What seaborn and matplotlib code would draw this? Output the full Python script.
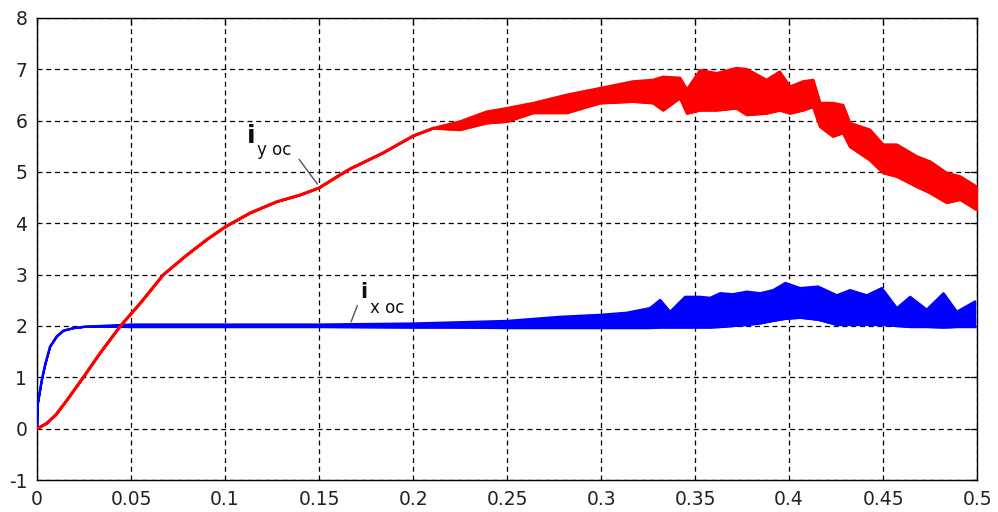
import matplotlib
matplotlib.use("Agg")
import matplotlib.pyplot as plt
import seaborn as sns
import pandas as pd

# ---- data (time in s, current) ----
red_t = [0, 0.005, 0.01, 0.0158, 0.0246, 0.0335, 0.0441, 0.0548, 0.0672, 0.0796,
         0.0902, 0.1005, 0.1133, 0.1275, 0.1399, 0.15, 0.161, 0.1665, 0.184, 0.2,
         0.2106, 0.225, 0.239, 0.25, 0.264, 0.2818, 0.2995, 0.317, 0.3277, 0.333,
         0.342, 0.3457, 0.3527, 0.3615, 0.372, 0.3775, 0.388, 0.395, 0.4005, 0.4074,
         0.4128, 0.4165, 0.4234, 0.4287, 0.4324, 0.443, 0.45, 0.4573, 0.468, 0.475,
         0.4838, 0.491, 0.4998]
red_hi = [0, 0.1, 0.27, 0.55, 1.0, 1.47, 1.99, 2.44, 3.0, 3.38,
          3.68, 3.94, 4.2, 4.42, 4.55, 4.69, 4.94, 5.06, 5.37, 5.7,
          5.85, 5.98, 6.17, 6.24, 6.34, 6.5, 6.63, 6.76, 6.79, 6.85,
          6.83, 6.6, 6.98, 6.92, 7.02, 7.0, 6.79, 6.95, 6.66, 6.76,
          6.79, 6.34, 6.34, 6.3, 5.95, 5.82, 5.53, 5.53, 5.3, 5.2,
          4.98, 4.91, 4.71]
red_lo = [0, 0.1, 0.27, 0.55, 1.0, 1.47, 1.99, 2.44, 3.0, 3.38,
          3.68, 3.94, 4.2, 4.42, 4.55, 4.69, 4.94, 5.06, 5.37, 5.7,
          5.85, 5.82, 5.95, 5.98, 6.15, 6.15, 6.34, 6.37, 6.34, 6.2,
          6.44, 6.14, 6.2, 6.2, 6.24, 6.11, 6.14, 6.2, 6.14, 6.2,
          6.27, 5.88, 5.69, 5.76, 5.49, 5.23, 4.98, 4.91, 4.71, 4.59,
          4.4, 4.46, 4.26]

blue_t = [0, 0.0003, 0.0025, 0.0043, 0.0069, 0.0105, 0.014, 0.0193, 0.0264, 0.05,
          0.1, 0.15, 0.2, 0.22, 0.25, 0.278, 0.3, 0.3137, 0.326, 0.3314,
          0.3367, 0.3447, 0.3527, 0.358, 0.3633, 0.37, 0.3775, 0.3846, 0.3915, 0.398,
          0.4059, 0.4154, 0.4254, 0.4324, 0.4413, 0.4493, 0.4573, 0.4644, 0.4732, 0.4821,
          0.4892, 0.4989]
blue_hi = [0, 0.47, 0.95, 1.25, 1.6, 1.8, 1.91, 1.96, 1.99, 2.03,
           2.03, 2.03, 2.05, 2.07, 2.1, 2.18, 2.22, 2.26, 2.35, 2.51,
           2.28, 2.57, 2.57, 2.55, 2.64, 2.62, 2.67, 2.64, 2.7, 2.84,
           2.74, 2.77, 2.6, 2.7, 2.6, 2.74, 2.35, 2.57, 2.32, 2.64,
           2.28, 2.48]
blue_lo = [0, 0.47, 0.95, 1.25, 1.6, 1.8, 1.91, 1.96, 1.99, 1.98,
           1.98, 1.98, 1.97, 1.97, 1.96, 1.96, 1.96, 1.96, 1.96, 1.97,
           1.97, 1.97, 1.97, 1.97, 1.98, 2.0, 2.02, 2.05, 2.1, 2.14,
           2.16, 2.12, 2.02, 2.02, 2.02, 2.02, 2.0, 1.98, 1.98, 1.97,
           1.98, 1.98]

x_ticks = [0, 0.05, 0.1, 0.15, 0.2, 0.25, 0.3, 0.35, 0.4, 0.45, 0.5]
x_labels = ["0", "0.05", "0.1", "0.15", "0.2", "0.25", "0.3", "0.35", "0.4", "0.45", "0.5"]
y_ticks = [-1, 0, 1, 2, 3, 4, 5, 6, 7, 8]
y_labels = [str(v) for v in y_ticks]

red_df = pd.DataFrame({"t": red_t, "hi": red_hi, "lo": red_lo})
blue_df = pd.DataFrame({"t": blue_t, "hi": blue_hi, "lo": blue_lo})

sns.set_theme(style="white")
plt.rcParams['font.family'] = ['DejaVu Sans']

fig = plt.figure(figsize=(9.98, 5.12), dpi=100)
ax = fig.add_axes([0.0371, 0.0625, 0.942, 0.9025])

# band + edges
ax.fill_between(blue_df["t"], blue_df["lo"], blue_df["hi"], color="#0000ff",
                linewidth=1.0, edgecolor="#0000ff", zorder=3)
sns.lineplot(data=blue_df, x="t", y="hi", color="#0000ff", lw=1.5,
             estimator=None, sort=False, ax=ax, zorder=3)
sns.lineplot(data=blue_df, x="t", y="lo", color="#0000ff", lw=1.5,
             estimator=None, sort=False, ax=ax, zorder=3)

ax.fill_between(red_df["t"], red_df["lo"], red_df["hi"], color="#ff0000",
                linewidth=1.0, edgecolor="#ff0000", zorder=4)
sns.lineplot(data=red_df, x="t", y="hi", color="#ff0000", lw=2.0,
             estimator=None, sort=False, ax=ax, zorder=4)
sns.lineplot(data=red_df, x="t", y="lo", color="#ff0000", lw=2.0,
             estimator=None, sort=False, ax=ax, zorder=4)

ax.set_xlim(0, 0.5)
ax.set_ylim(-1, 8)
ax.set_xticks(x_ticks)
ax.set_xticklabels(x_labels)
ax.set_yticks(y_ticks)
ax.set_yticklabels(y_labels)
ax.set_xlabel("")
ax.set_ylabel("")

ax.grid(True, color="black", linestyle=(0, (4, 3)), linewidth=0.9)
ax.set_axisbelow(True)
for s in ax.spines.values():
    s.set_color("black")
    s.set_linewidth(1.0)
    s.set_visible(True)

ax.tick_params(axis="both", which="major", direction="in", length=5, width=0.9,
               top=True, right=True, labelsize=13.5, colors="black",
               labelcolor="#222222", pad=7)

# annotations
ax.annotate("", xy=(0.1500, 4.72), xytext=(0.1385, 5.29),
            arrowprops=dict(arrowstyle="-", color="#555555", lw=1.0), zorder=5)
ax.text(0.1118, 5.57, "i", fontsize=18, fontweight="bold", color="#111111",
        ha="left", va="baseline")
ax.text(0.1170, 5.33, "y oc", fontsize=12, color="#111111", ha="left", va="baseline")

ax.annotate("", xy=(0.1665, 2.03), xytext=(0.1709, 2.45),
            arrowprops=dict(arrowstyle="-", color="#555555", lw=1.0), zorder=5)
ax.text(0.1720, 2.55, "i", fontsize=15, fontweight="bold", color="#111111",
        ha="left", va="baseline")
ax.text(0.1770, 2.26, "x oc", fontsize=12, color="#111111", ha="left", va="baseline")

fig.savefig("out.png", dpi=100)
